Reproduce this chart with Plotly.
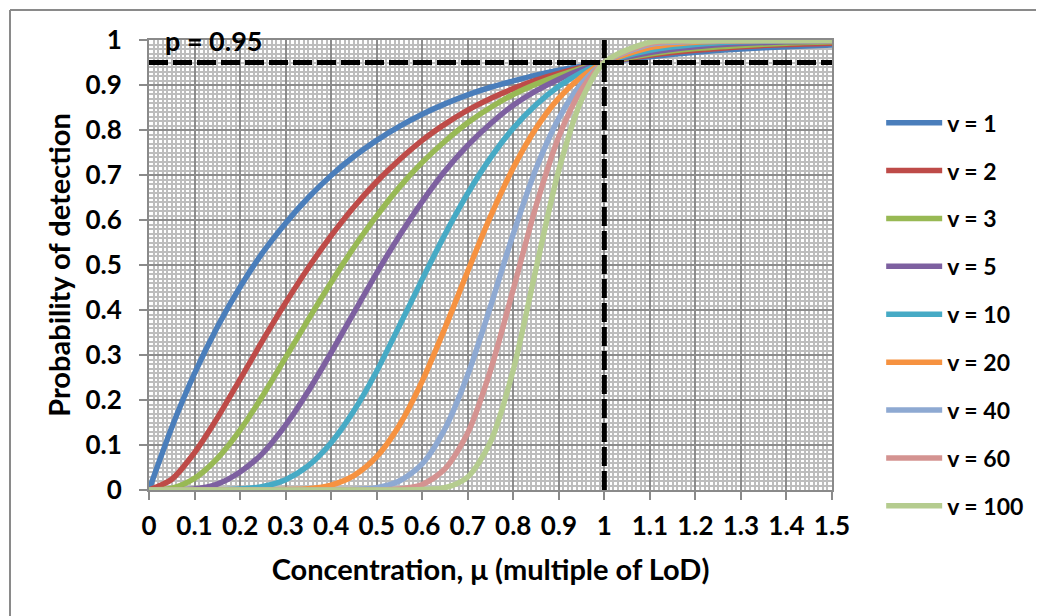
import plotly.graph_objects as go

# concentration (multiple of LoD)
x_vals = [0, 0.05, 0.1, 0.15, 0.2, 0.25, 0.3, 0.35, 0.4, 0.45, 0.5, 0.55, 0.6, 0.65,
          0.7, 0.75, 0.8, 0.85, 0.9, 0.95, 1.0, 1.1, 1.2, 1.3, 1.4, 1.5]

p_v1 = [0, 0.139, 0.259, 0.362, 0.451, 0.528, 0.593, 0.650, 0.699, 0.741, 0.777, 0.808, 0.835,
        0.858, 0.878, 0.895, 0.909, 0.922, 0.933, 0.942, 0.950, 0.963, 0.973, 0.980, 0.985, 0.989]
p_v2 = [0, 0.024, 0.083, 0.160, 0.246, 0.333, 0.416, 0.494, 0.565, 0.629, 0.685, 0.734, 0.777,
        0.813, 0.844, 0.870, 0.892, 0.911, 0.926, 0.939, 0.950, 0.966, 0.977, 0.985, 0.990, 0.993]
p_v3 = [0, 0.004, 0.026, 0.070, 0.133, 0.210, 0.294, 0.379, 0.461, 0.539, 0.609, 0.673, 0.728,
        0.775, 0.816, 0.850, 0.879, 0.902, 0.921, 0.937, 0.950, 0.969, 0.981, 0.988, 0.993, 0.996]
p_v5 = [0, 0.000, 0.002, 0.013, 0.040, 0.082, 0.144, 0.220, 0.305, 0.394, 0.482, 0.565, 0.641,
        0.709, 0.766, 0.814, 0.855, 0.887, 0.913, 0.934, 0.950, 0.972, 0.985, 0.992, 0.996, 0.998]
p_v10 = [0, 0, 0, 0.000, 0.002, 0.008, 0.023, 0.054, 0.105, 0.176, 0.264, 0.365, 0.468,
         0.568, 0.659, 0.738, 0.804, 0.856, 0.897, 0.928, 0.950, 0.977, 0.990, 0.996, 0.998, 0.999]
p_v20 = [0, 0, 0, 0, 0, 0, 0.001, 0.003, 0.011, 0.032, 0.074, 0.144, 0.242,
         0.360, 0.486, 0.608, 0.716, 0.804, 0.871, 0.918, 0.950, 0.983, 0.995, 0.998, 0.999, 0.999]
p_v40 = [0, 0, 0, 0, 0, 0, 0, 0, 0, 0.001, 0.005, 0.020, 0.058,
         0.136, 0.256, 0.408, 0.569, 0.714, 0.826, 0.903, 0.950, 0.990, 0.997, 0.999, 0.999, 0.999]
p_v60 = [0, 0, 0, 0, 0, 0, 0, 0, 0, 0, 0.000, 0.002, 0.012,
         0.047, 0.127, 0.266, 0.446, 0.631, 0.785, 0.890, 0.950, 0.992, 0.998, 0.999, 0.999, 0.999]
p_v100 = [0, 0, 0, 0, 0, 0, 0, 0, 0, 0, 0, 0, 0.001,
          0.005, 0.029, 0.107, 0.267, 0.492, 0.711, 0.867, 0.950, 0.995, 0.998, 0.999, 0.999, 0.999]

series_names = ["v = 1", "v = 2", "v = 3", "v = 5", "v = 10", "v = 20", "v = 40", "v = 60", "v = 100"]
series_values = [p_v1, p_v2, p_v3, p_v5, p_v10, p_v20, p_v40, p_v60, p_v100]
series_colors = ["#4A7EBB", "#BE4B48", "#98B954", "#7D60A0", "#46AAC5", "#F69240",
                 "#8EA9D2", "#D49391", "#B5CC8F"]

x_ticks = [0, 0.1, 0.2, 0.3, 0.4, 0.5, 0.6, 0.7, 0.8, 0.9, 1, 1.1, 1.2, 1.3, 1.4, 1.5]
x_tick_text = ["0", "0.1", "0.2", "0.3", "0.4", "0.5", "0.6", "0.7", "0.8", "0.9", "1",
               "1.1", "1.2", "1.3", "1.4", "1.5"]
y_ticks = [0, 0.1, 0.2, 0.3, 0.4, 0.5, 0.6, 0.7, 0.8, 0.9, 1]
y_tick_text = ["0", "0.1", "0.2", "0.3", "0.4", "0.5", "0.6", "0.7", "0.8", "0.9", "1"]

threshold_p = 0.95
threshold_x = 1.0

FONT = "Lato"
fig = go.Figure()

for name, vals, col in zip(series_names, series_values, series_colors):
    fig.add_trace(go.Scatter(
        x=x_vals, y=vals, mode="lines", name=name, legendgroup=name,
        line=dict(color=col, width=5.5, shape="spline", smoothing=0.8),
        cliponaxis=False,
    ))

# dashed reference lines
fig.add_trace(go.Scatter(
    x=[0, 1.5], y=[threshold_p, threshold_p], mode="lines", showlegend=False,
    line=dict(color="black", width=5, dash="19px,5px"), hoverinfo="skip", cliponaxis=False,
))
fig.add_trace(go.Scatter(
    x=[threshold_x, threshold_x], y=[0, 1], mode="lines", showlegend=False,
    line=dict(color="black", width=5, dash="19px,5px"), hoverinfo="skip", cliponaxis=False,
))

fig.add_annotation(
    x=0.03, y=1.0, xref="x", yref="y", text="p = 0.95", showarrow=False,
    xanchor="left", yanchor="middle",
    font=dict(family=FONT, size=27, color="black", weight="bold"),
)

axis_common = dict(
    showline=True, linecolor="#8a8a8a", linewidth=2, mirror=True,
    ticks="outside", ticklen=8, tickwidth=1.5, tickcolor="#8a8a8a",
    showgrid=True, gridcolor="#8c8c8c", gridwidth=1.5,
    zeroline=False, layer="below traces",
    tickfont=dict(family=FONT, size=26, color="black", weight="bold"),
)

fig.update_xaxes(
    range=[0, 1.5], tickvals=x_ticks, ticktext=x_tick_text,
    minor=dict(dtick=0.01, showgrid=True, gridcolor="#bdbdbd", gridwidth=1.5, ticks=""),
    title=dict(text="Concentration, μ (multiple of LoD)", standoff=19,
               font=dict(family=FONT, size=29, color="black", weight="bold")),
    ticklabelstandoff=4,
    **axis_common,
)
fig.update_yaxes(
    range=[0, 1], tickvals=y_ticks, ticktext=y_tick_text,
    minor=dict(dtick=0.01, showgrid=True, gridcolor="#bdbdbd", gridwidth=1.5, ticks=""),
    title=dict(text="Probability of detection", standoff=6,
               font=dict(family=FONT, size=29, color="black", weight="bold")),
    ticklabelstandoff=12,
    **axis_common,
)

# outer chart border (left & top visible)
fig.add_shape(type="line", xref="paper", yref="paper",
              x0=(10 - 149) / 683, x1=1.4, y0=(490 - 10) / 450, y1=(490 - 10) / 450,
              line=dict(color="#8a8a8a", width=2))
fig.add_shape(type="line", xref="paper", yref="paper",
              x0=(10 - 149) / 683, x1=(10 - 149) / 683, y0=(490 - 10) / 450, y1=-0.4,
              line=dict(color="#8a8a8a", width=2))

fig.update_layout(
    width=1044, height=616,
    margin=dict(l=141, r=220, t=32, b=134, autoexpand=False),
    paper_bgcolor="white", plot_bgcolor="white",
    font=dict(family=FONT, color="black"),
    showlegend=True,
    legend=dict(
        x=1.072, y=0.864, xanchor="left", yanchor="top",
        font=dict(family=FONT, size=23, color="black", weight="bold"),
        tracegroupgap=15, traceorder="grouped", itemwidth=56,
        bgcolor="rgba(0,0,0,0)",
    ),
)

fig.write_html("out.html")
